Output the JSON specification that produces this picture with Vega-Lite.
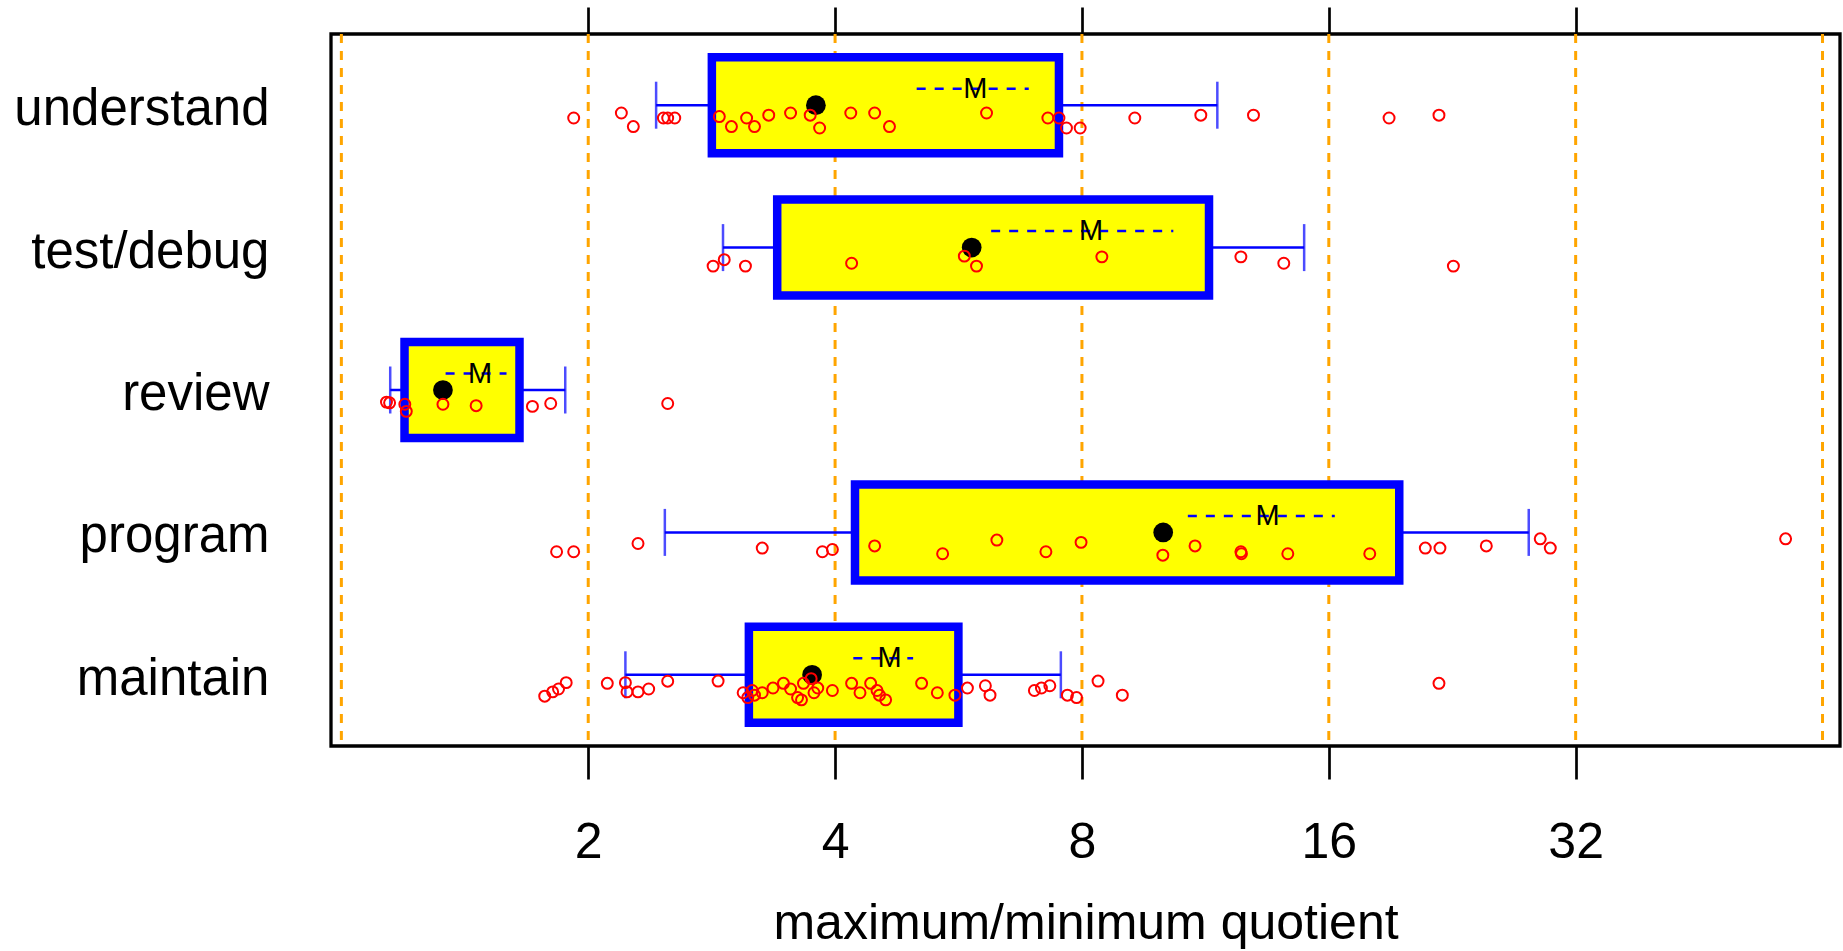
{
  "$schema": "https://vega.github.io/schema/vega-lite/v6.json",
  "width": 1509,
  "height": 712,
  "autosize": {"type": "none"},
  "padding": {"left": 331, "top": 34, "right": 3, "bottom": 205},
  "background": "white",
  "config": {"view": {"stroke": "black", "strokeWidth": 3.3}, "font": "Liberation Sans"},
  "datasets": {
    "grid": [{"value": 1}, {"value": 2}, {"value": 4}, {"value": 8}, {"value": 16}, {"value": 32}, {"value": 64}],
    "stats": [
      {"category": "understand", "wlo": 2.42, "q1": 2.83, "med": 3.79, "q3": 7.5, "whi": 11.7, "mean": 5.93, "mlo": 5.03, "mhi": 6.89},
      {"category": "test/debug", "wlo": 2.92, "q1": 3.4, "med": 5.87, "q3": 11.43, "whi": 14.93, "mean": 8.21, "mlo": 6.2, "mhi": 10.34},
      {"category": "review", "wlo": 1.147, "q1": 1.194, "med": 1.33, "q3": 1.649, "whi": 1.875, "mean": 1.476, "mlo": 1.34, "mhi": 1.59},
      {"category": "program", "wlo": 2.48, "q1": 4.23, "med": 10.05, "q3": 19.5, "whi": 28.05, "mean": 13.47, "mlo": 10.77, "mhi": 16.27},
      {"category": "maintain", "wlo": 2.22, "q1": 3.14, "med": 3.75, "q3": 5.655, "whi": 7.54, "mean": 4.66, "mlo": 4.21, "mhi": 4.98}
    ],
    "pts": [
      {"category": "understand", "value": 1.92, "jitter": 0.09},
      {"category": "understand", "value": 2.195, "jitter": 0.055},
      {"category": "understand", "value": 2.27, "jitter": 0.15},
      {"category": "understand", "value": 2.47, "jitter": 0.09},
      {"category": "understand", "value": 2.5, "jitter": 0.09},
      {"category": "understand", "value": 2.55, "jitter": 0.09},
      {"category": "understand", "value": 2.89, "jitter": 0.08},
      {"category": "understand", "value": 2.99, "jitter": 0.15},
      {"category": "understand", "value": 3.12, "jitter": 0.09},
      {"category": "understand", "value": 3.19, "jitter": 0.15},
      {"category": "understand", "value": 3.32, "jitter": 0.07},
      {"category": "understand", "value": 3.53, "jitter": 0.055},
      {"category": "understand", "value": 3.73, "jitter": 0.07},
      {"category": "understand", "value": 3.83, "jitter": 0.16},
      {"category": "understand", "value": 4.18, "jitter": 0.055},
      {"category": "understand", "value": 4.47, "jitter": 0.055},
      {"category": "understand", "value": 4.66, "jitter": 0.15},
      {"category": "understand", "value": 6.12, "jitter": 0.055},
      {"category": "understand", "value": 7.27, "jitter": 0.09},
      {"category": "understand", "value": 7.5, "jitter": 0.09},
      {"category": "understand", "value": 7.66, "jitter": 0.16},
      {"category": "understand", "value": 7.96, "jitter": 0.16},
      {"category": "understand", "value": 9.28, "jitter": 0.09},
      {"category": "understand", "value": 11.17, "jitter": 0.07},
      {"category": "understand", "value": 12.95, "jitter": 0.07},
      {"category": "understand", "value": 18.95, "jitter": 0.09},
      {"category": "understand", "value": 21.8, "jitter": 0.07},
      {"category": "test/debug", "value": 2.84, "jitter": 0.13},
      {"category": "test/debug", "value": 2.93, "jitter": 0.085},
      {"category": "test/debug", "value": 3.11, "jitter": 0.13},
      {"category": "test/debug", "value": 4.19, "jitter": 0.11},
      {"category": "test/debug", "value": 5.75, "jitter": 0.06},
      {"category": "test/debug", "value": 5.95, "jitter": 0.13},
      {"category": "test/debug", "value": 8.46, "jitter": 0.065},
      {"category": "test/debug", "value": 12.5, "jitter": 0.065},
      {"category": "test/debug", "value": 14.1, "jitter": 0.11},
      {"category": "test/debug", "value": 22.7, "jitter": 0.13},
      {"category": "review", "value": 1.135, "jitter": 0.085},
      {"category": "review", "value": 1.145, "jitter": 0.09},
      {"category": "review", "value": 1.195, "jitter": 0.1},
      {"category": "review", "value": 1.2, "jitter": 0.15},
      {"category": "review", "value": 1.33, "jitter": 0.1},
      {"category": "review", "value": 1.46, "jitter": 0.11},
      {"category": "review", "value": 1.71, "jitter": 0.115},
      {"category": "review", "value": 1.8, "jitter": 0.095},
      {"category": "review", "value": 2.5, "jitter": 0.095},
      {"category": "program", "value": 1.83, "jitter": 0.136},
      {"category": "program", "value": 1.92, "jitter": 0.136},
      {"category": "program", "value": 2.3, "jitter": 0.078},
      {"category": "program", "value": 3.26, "jitter": 0.11},
      {"category": "program", "value": 3.86, "jitter": 0.136},
      {"category": "program", "value": 3.97, "jitter": 0.12},
      {"category": "program", "value": 4.47, "jitter": 0.095},
      {"category": "program", "value": 5.41, "jitter": 0.15},
      {"category": "program", "value": 6.3, "jitter": 0.054},
      {"category": "program", "value": 7.23, "jitter": 0.136},
      {"category": "program", "value": 7.98, "jitter": 0.07},
      {"category": "program", "value": 10.04, "jitter": 0.16},
      {"category": "program", "value": 10.99, "jitter": 0.095},
      {"category": "program", "value": 12.5, "jitter": 0.136},
      {"category": "program", "value": 12.52, "jitter": 0.15},
      {"category": "program", "value": 14.26, "jitter": 0.15},
      {"category": "program", "value": 17.95, "jitter": 0.15},
      {"category": "program", "value": 20.98, "jitter": 0.11},
      {"category": "program", "value": 21.86, "jitter": 0.11},
      {"category": "program", "value": 24.9, "jitter": 0.095},
      {"category": "program", "value": 28.97, "jitter": 0.045},
      {"category": "program", "value": 29.8, "jitter": 0.11},
      {"category": "program", "value": 57.7, "jitter": 0.045},
      {"category": "maintain", "value": 1.77, "jitter": 0.15},
      {"category": "maintain", "value": 1.81, "jitter": 0.12},
      {"category": "maintain", "value": 1.84, "jitter": 0.1},
      {"category": "maintain", "value": 1.88, "jitter": 0.055},
      {"category": "maintain", "value": 2.11, "jitter": 0.06},
      {"category": "maintain", "value": 2.22, "jitter": 0.055},
      {"category": "maintain", "value": 2.23, "jitter": 0.12},
      {"category": "maintain", "value": 2.3, "jitter": 0.12},
      {"category": "maintain", "value": 2.37, "jitter": 0.1},
      {"category": "maintain", "value": 2.5, "jitter": 0.045},
      {"category": "maintain", "value": 2.88, "jitter": 0.044},
      {"category": "maintain", "value": 3.09, "jitter": 0.126},
      {"category": "maintain", "value": 3.13, "jitter": 0.16},
      {"category": "maintain", "value": 3.17, "jitter": 0.11},
      {"category": "maintain", "value": 3.19, "jitter": 0.143},
      {"category": "maintain", "value": 3.26, "jitter": 0.126},
      {"category": "maintain", "value": 3.36, "jitter": 0.093},
      {"category": "maintain", "value": 3.46, "jitter": 0.06},
      {"category": "maintain", "value": 3.53, "jitter": 0.1},
      {"category": "maintain", "value": 3.6, "jitter": 0.16},
      {"category": "maintain", "value": 3.64, "jitter": 0.176},
      {"category": "maintain", "value": 3.66, "jitter": 0.06},
      {"category": "maintain", "value": 3.74, "jitter": 0.027},
      {"category": "maintain", "value": 3.77, "jitter": 0.126},
      {"category": "maintain", "value": 3.81, "jitter": 0.093},
      {"category": "maintain", "value": 3.97, "jitter": 0.11},
      {"category": "maintain", "value": 4.19, "jitter": 0.06},
      {"category": "maintain", "value": 4.29, "jitter": 0.126},
      {"category": "maintain", "value": 4.42, "jitter": 0.06},
      {"category": "maintain", "value": 4.5, "jitter": 0.11},
      {"category": "maintain", "value": 4.53, "jitter": 0.143},
      {"category": "maintain", "value": 4.61, "jitter": 0.176},
      {"category": "maintain", "value": 5.1, "jitter": 0.06},
      {"category": "maintain", "value": 5.33, "jitter": 0.126},
      {"category": "maintain", "value": 5.6, "jitter": 0.143},
      {"category": "maintain", "value": 5.8, "jitter": 0.093},
      {"category": "maintain", "value": 6.1, "jitter": 0.077},
      {"category": "maintain", "value": 6.18, "jitter": 0.143},
      {"category": "maintain", "value": 7.0, "jitter": 0.11},
      {"category": "maintain", "value": 7.14, "jitter": 0.093},
      {"category": "maintain", "value": 7.31, "jitter": 0.077},
      {"category": "maintain", "value": 7.68, "jitter": 0.143},
      {"category": "maintain", "value": 7.88, "jitter": 0.16},
      {"category": "maintain", "value": 8.37, "jitter": 0.044},
      {"category": "maintain", "value": 8.96, "jitter": 0.143},
      {"category": "maintain", "value": 21.8, "jitter": 0.06}
    ]
  },
  "layer": [
    {
      "data": {"name": "grid"},
      "mark": {"type": "rule", "color": "#FFA500", "strokeWidth": 3, "strokeDash": [9, 8]},
      "encoding": {
        "x": {
          "field": "value", "type": "quantitative",
          "scale": {"type": "log", "base": 2, "domain": [0.9713, 67.22], "nice": false, "zero": false},
          "axis": {
            "orient": "bottom", "values": [2, 4, 8, 16, 32], "format": "d",
            "tickSize": 33, "tickWidth": 2.7, "tickColor": "black", "domain": false, "grid": false,
            "labelFontSize": 50, "labelPadding": 38, "labelColor": "black", "labelFont": "Liberation Sans",
            "title": "maximum/minimum quotient", "titleFontSize": 50, "titleFontWeight": "normal",
            "titleColor": "black", "titleFont": "Liberation Sans", "titleBaseline": "alphabetic", "titleY": 192
          }
        }
      }
    },
    {
      "data": {"name": "stats"},
      "mark": {"type": "rule", "color": "#0000FF", "strokeWidth": 2.5},
      "encoding": {
        "x": {
          "field": "wlo", "type": "quantitative",
          "axis": {"orient": "top", "values": [2, 4, 8, 16, 32], "tickSize": 27, "tickWidth": 2.7, "tickColor": "black", "labels": false, "domain": false, "grid": false, "title": null}
        },
        "x2": {"field": "whi"},
        "y": {
          "field": "category", "type": "nominal",
          "scale": {"type": "band", "domain": ["understand", "test/debug", "review", "program", "maintain"], "paddingInner": 0, "paddingOuter": 0},
          "axis": {"domain": false, "ticks": false, "grid": false, "labelFontSize": 51, "labelPadding": 62, "labelOffset": 5, "labelLimit": 0, "labelColor": "black", "labelFont": "Liberation Sans", "title": null}
        }
      }
    },
    {
      "data": {"name": "stats"},
      "mark": {"type": "tick", "color": "#0000FF", "size": 47, "thickness": 2.5, "orient": "vertical"},
      "encoding": {
        "x": {"field": "wlo", "type": "quantitative", "axis": null},
        "y": {"field": "category", "type": "nominal", "scale": {"type": "band"}}
      }
    },
    {
      "data": {"name": "stats"},
      "mark": {"type": "tick", "color": "#0000FF", "size": 47, "thickness": 2.5, "orient": "vertical"},
      "encoding": {
        "x": {"field": "whi", "type": "quantitative", "axis": null},
        "y": {"field": "category", "type": "nominal", "scale": {"type": "band"}}
      }
    },
    {
      "data": {"name": "stats"},
      "mark": {"type": "bar", "fill": "#FFFF00", "stroke": "#0000FF", "strokeWidth": 8.5, "height": {"band": 0.674}},
      "encoding": {
        "x": {"field": "q1", "type": "quantitative", "axis": null},
        "x2": {"field": "q3"},
        "y": {"field": "category", "type": "nominal", "scale": {"type": "band"}}
      }
    },
    {
      "data": {"name": "stats"},
      "mark": {"type": "point", "shape": "circle", "filled": true, "color": "black", "size": 390, "opacity": 1},
      "encoding": {
        "x": {"field": "med", "type": "quantitative", "axis": null},
        "y": {"field": "category", "type": "nominal", "scale": {"type": "band"}}
      }
    },
    {
      "data": {"name": "stats"},
      "mark": {"type": "rule", "color": "#0000FF", "strokeWidth": 2.5, "strokeDash": [9, 9], "yOffset": -16.5},
      "encoding": {
        "x": {"field": "mlo", "type": "quantitative", "axis": null},
        "x2": {"field": "mhi"},
        "y": {"field": "category", "type": "nominal", "scale": {"type": "band"}}
      }
    },
    {
      "data": {"name": "stats"},
      "mark": {"type": "text", "text": "M", "fontSize": 29, "color": "black", "baseline": "middle", "align": "center", "yOffset": -16.5, "font": "Liberation Sans"},
      "encoding": {
        "x": {"field": "mean", "type": "quantitative", "axis": null},
        "y": {"field": "category", "type": "nominal", "scale": {"type": "band"}}
      }
    },
    {
      "data": {"name": "pts"},
      "mark": {"type": "point", "shape": "circle", "filled": false, "color": "#FF0000", "size": 120, "strokeWidth": 2, "opacity": 1},
      "encoding": {
        "x": {"field": "value", "type": "quantitative", "axis": null},
        "y": {"field": "category", "type": "nominal", "scale": {"type": "band"}},
        "yOffset": {"field": "jitter", "type": "quantitative", "scale": {"domain": [-0.5, 0.5], "range": [0, 142.4], "nice": false, "zero": false}}
      }
    }
  ],
  "resolve": {"axis": {"x": "independent"}, "scale": {"yOffset": "independent"}}
}
